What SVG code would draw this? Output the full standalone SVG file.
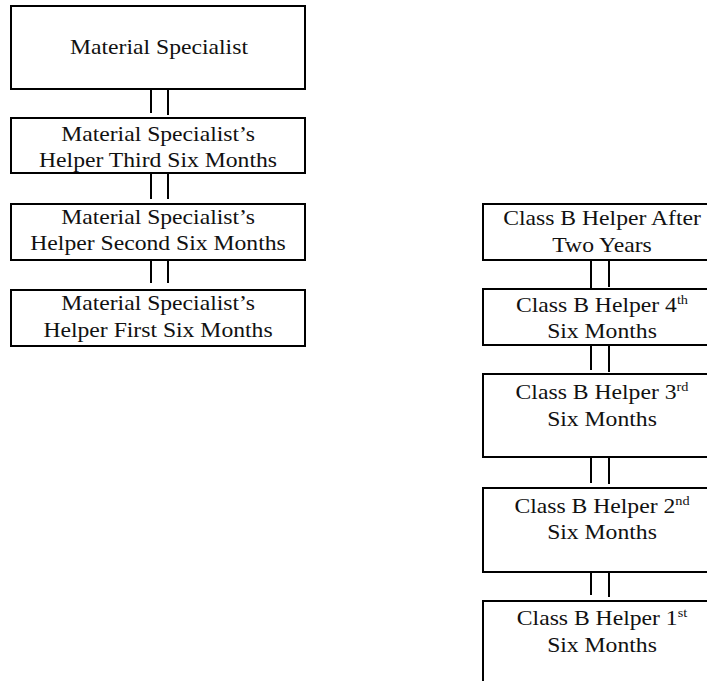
<svg xmlns="http://www.w3.org/2000/svg" width="707" height="681" viewBox="0 0 707 681">
<style>
  .box { fill: #ffffff; stroke: #000000; stroke-width: 2; }
  .conn line { stroke: #000000; stroke-width: 2; }
  .lbl { font-size: 21.5px; fill: #111111; text-anchor: middle; }
  .sup { font-size: 13px; }
</style>
<rect x="0" y="0" width="707" height="681" fill="#ffffff"/>

<g id="conn" class="conn">
  <line x1="151" y1="89" x2="151" y2="113"/>
  <line x1="168" y1="89" x2="168" y2="115"/>
  <line x1="151" y1="173" x2="151" y2="199"/>
  <line x1="168" y1="173" x2="168" y2="199"/>
  <line x1="151" y1="260" x2="151" y2="283"/>
  <line x1="168" y1="260" x2="168" y2="283"/>
  <line x1="591" y1="260" x2="591" y2="289"/>
  <line x1="609" y1="260" x2="609" y2="287"/>
  <line x1="591" y1="345" x2="591" y2="370"/>
  <line x1="609" y1="345" x2="609" y2="372"/>
  <line x1="591" y1="457" x2="591" y2="483"/>
  <line x1="609" y1="457" x2="609" y2="484"/>
  <line x1="591" y1="572" x2="591" y2="595"/>
  <line x1="609" y1="572" x2="609" y2="597"/>
</g>

<g font-family="'Liberation Serif', 'Times New Roman', Times, serif">
<g id="ms">
  <rect class="box" x="11" y="6" width="294" height="83"/>
  <g transform="translate(159,0) scale(1.1,1)"><text class="lbl" x="0" y="54">Material Specialist</text></g>
</g>
<g id="ms-helper-3">
  <rect class="box" x="11" y="118" width="294" height="55"/>
  <g transform="translate(158,0) scale(1.1,1)">
    <text class="lbl" x="0" y="141">Material Specialist’s</text>
    <text class="lbl" x="0" y="167">Helper Third Six Months</text>
  </g>
</g>
<g id="ms-helper-2">
  <rect class="box" x="11" y="204" width="294" height="56"/>
  <g transform="translate(158,0) scale(1.1,1)">
    <text class="lbl" x="0" y="224">Material Specialist’s</text>
    <text class="lbl" x="0" y="250.5">Helper Second Six Months</text>
  </g>
</g>
<g id="ms-helper-1">
  <rect class="box" x="11" y="290" width="294" height="56"/>
  <g transform="translate(158,0) scale(1.1,1)">
    <text class="lbl" x="0" y="310">Material Specialist’s</text>
    <text class="lbl" x="0" y="337">Helper First Six Months</text>
  </g>
</g>

<g id="cb-after-two">
  <rect class="box" x="483" y="204" width="240" height="56"/>
  <g transform="translate(602,0) scale(1.1,1)">
    <text class="lbl" x="0" y="225">Class B Helper After</text>
    <text class="lbl" x="0" y="252">Two Years</text>
  </g>
</g>
<g id="cb-4">
  <rect class="box" x="483" y="289" width="240" height="56"/>
  <g transform="translate(602,0) scale(1.1,1)">
    <text class="lbl" x="0" y="312">Class B Helper 4<tspan class="sup" dy="-8">th</tspan></text>
    <text class="lbl" x="0" y="338">Six Months</text>
  </g>
</g>
<g id="cb-3">
  <rect class="box" x="483" y="374" width="240" height="83"/>
  <g transform="translate(602,0) scale(1.1,1)">
    <text class="lbl" x="0" y="399">Class B Helper 3<tspan class="sup" dy="-8">rd</tspan></text>
    <text class="lbl" x="0" y="426.5">Six Months</text>
  </g>
</g>
<g id="cb-2">
  <rect class="box" x="483" y="488" width="240" height="84"/>
  <g transform="translate(602,0) scale(1.1,1)">
    <text class="lbl" x="0" y="513">Class B Helper 2<tspan class="sup" dy="-8">nd</tspan></text>
    <text class="lbl" x="0" y="539.5">Six Months</text>
  </g>
</g>
<g id="cb-1">
  <rect class="box" x="483" y="601" width="240" height="100"/>
  <g transform="translate(602,0) scale(1.1,1)">
    <text class="lbl" x="0" y="625">Class B Helper 1<tspan class="sup" dy="-8">st</tspan></text>
    <text class="lbl" x="0" y="652">Six Months</text>
  </g>
</g>
</g>
</svg>
